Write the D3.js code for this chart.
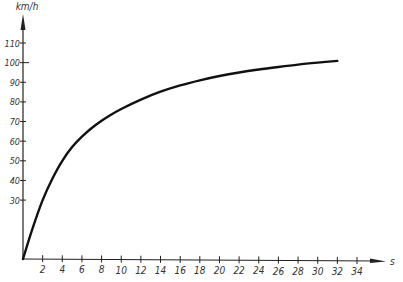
<!DOCTYPE html>
<html>
<head>
<meta charset="utf-8">
<script src="https://cdn.jsdelivr.net/npm/d3@7"></script>
<style>
  body { margin: 0; background: #fff; }
  text { font-family: "DejaVu Sans Condensed", "DejaVu Sans", sans-serif; font-style: italic; fill: #333; }
</style>
</head>
<body>
<div id="chart"></div>
<script>
// time in s and speed in km/h
const seconds = [0, 1, 2, 3, 4, 5, 6, 7, 8, 9, 10, 12, 14, 16, 18, 20, 22, 24, 26, 28, 30, 32];
const speeds = [0, 16, 30, 41, 50, 57, 62.3, 66.7, 70.4, 73.6, 76.4, 81.2, 85.2, 88.4, 91, 93.2, 95, 96.5, 97.8, 99, 100, 100.9];
const xTicks = [2, 4, 6, 8, 10, 12, 14, 16, 18, 20, 22, 24, 26, 28, 30, 32, 34];
const yTicks = [30, 40, 50, 60, 70, 80, 90, 100, 110];

const width = 403;
const height = 282;

const svg = d3.select("#chart")
  .append("svg")
  .attr("width", width)
  .attr("height", height);

const x = d3.scaleLinear().domain([0, 34]).range([23, 357]);
const y = d3.scaleLinear().domain([0, 110]).range([259, 43]);

const ink = "#222";

// x axis
svg.append("line")
  .attr("x1", x(0)).attr("x2", 378)
  .attr("y1", y(0)).attr("y2", y(0) + 2)
  .attr("stroke", ink).attr("stroke-width", 1.2);
svg.append("path")
  .attr("d", `M${386},${y(0) + 2.5} L${370},${y(0) - 0.5} L${370},${y(0) + 4} Z`)
  .attr("fill", ink);
svg.append("text")
  .attr("x", 390).attr("y", y(0) + 6)
  .style("font-size", "10px")
  .text("s");

const xAxis = svg.append("g");
xAxis.selectAll("line")
  .data(xTicks)
  .enter()
  .append("line")
  .attr("x1", (d) => x(d)).attr("x2", (d) => x(d))
  .attr("y1", (d) => y(0) - 4 + d / 17).attr("y2", (d) => y(0) + 3 + d / 17)
  .attr("stroke", ink).attr("stroke-width", 1);
xAxis.selectAll("text")
  .data(xTicks)
  .enter()
  .append("text")
  .attr("x", (d) => x(d))
  .attr("y", (d) => y(0) + 14 + d / 17)
  .attr("text-anchor", "middle")
  .style("font-size", "10px")
  .text((d) => d);

// y axis
svg.append("line")
  .attr("x1", x(0)).attr("x2", x(0))
  .attr("y1", y(0)).attr("y2", 24)
  .attr("stroke", ink).attr("stroke-width", 1.2);
svg.append("path")
  .attr("d", `M${x(0)},14 L${x(0) - 2.5},30 L${x(0) + 2.5},30 Z`)
  .attr("fill", ink);
svg.append("text")
  .attr("x", 27).attr("y", 10)
  .attr("text-anchor", "middle")
  .style("font-size", "10px")
  .text("km/h");

const yAxis = svg.append("g");
yAxis.selectAll("line")
  .data(yTicks)
  .enter()
  .append("line")
  .attr("x1", x(0) - 3).attr("x2", (d) => (d === 100 ? x(0) + 6 : x(0) + 3))
  .attr("y1", (d) => y(d)).attr("y2", (d) => y(d))
  .attr("stroke", ink).attr("stroke-width", 1);
yAxis.selectAll("text")
  .data(yTicks)
  .enter()
  .append("text")
  .attr("x", 20)
  .attr("y", (d) => y(d) + 3.5)
  .attr("text-anchor", "end")
  .style("font-size", "9px")
  .text((d) => d);

// curve
const data = seconds.map((s, i) => ({ s: s, v: speeds[i] }));
const line = d3.line()
  .x((d) => x(d.s))
  .y((d) => y(d.v))
  .curve(d3.curveCatmullRom);

svg.append("path")
  .datum(data)
  .attr("fill", "none")
  .attr("stroke", "#111")
  .attr("stroke-width", 2.4)
  .attr("stroke-linecap", "round")
  .attr("d", line);
</script>
</body>
</html>
